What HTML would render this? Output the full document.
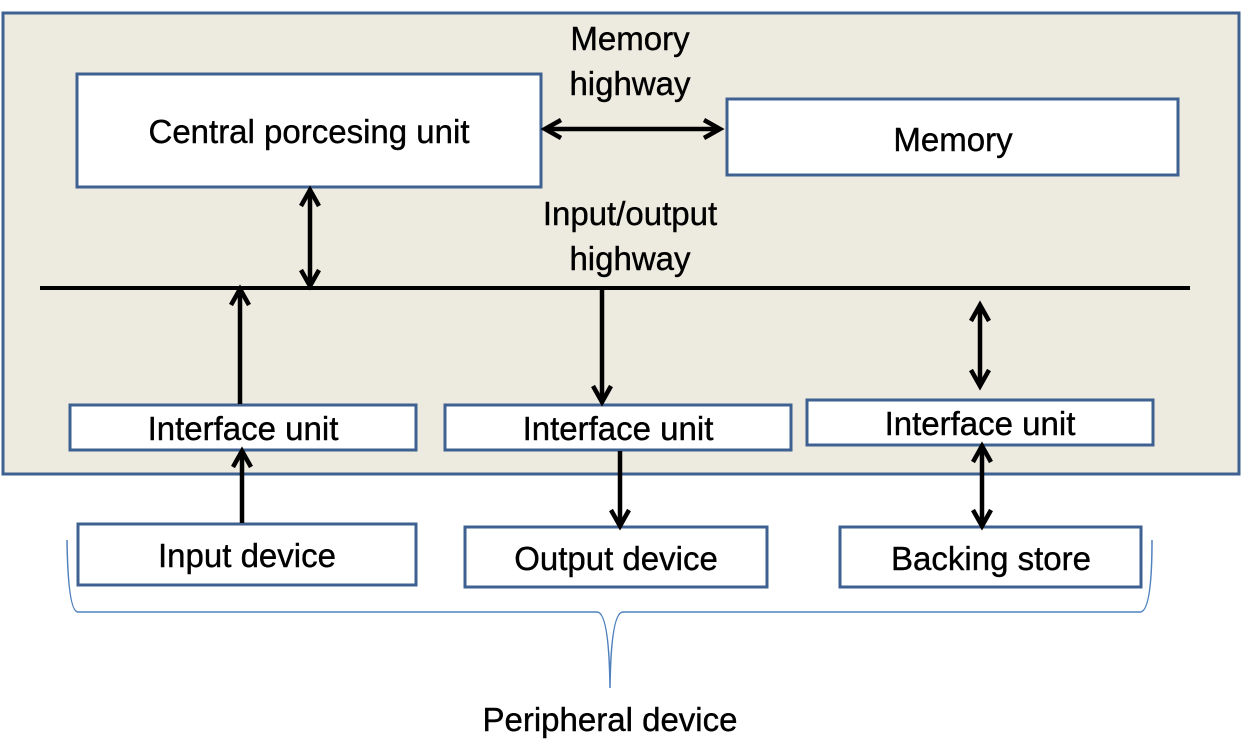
<!DOCTYPE html>
<html><head><style>
body{margin:0;background:#fff;}
svg{display:block;}
text{font-family:"Liberation Sans",sans-serif;font-size:33px;fill:#000;stroke:#000;stroke-width:0.4px;}
</style></head><body>
<svg width="1244" height="749" viewBox="0 0 1244 749">
<defs>
<marker id="b" markerWidth="24" markerHeight="24" refX="19" refY="12" orient="auto-start-reverse" markerUnits="userSpaceOnUse">
<path d="M3,3 L19,12 L3,21" fill="none" stroke="#000" stroke-width="4.5"/>
</marker>
</defs>
<rect x="3" y="13" width="1236" height="461" fill="#EDEAE0" stroke="#3E6192" stroke-width="3"/>
<g fill="#fff" stroke="#3E6192" stroke-width="3">
<rect x="77" y="74" width="464" height="113"/>
<rect x="727" y="99" width="451" height="76"/>
<rect x="70" y="405" width="346" height="45"/>
<rect x="445" y="405" width="346" height="45"/>
<rect x="807" y="400" width="346" height="45"/>
<rect x="78" y="524" width="338" height="61"/>
<rect x="465" y="527" width="302" height="60"/>
<rect x="840" y="527" width="301" height="60"/>
</g>
<line x1="40" y1="288" x2="1190" y2="288" stroke="#000" stroke-width="4"/>
<g stroke="#000" stroke-width="4.5" fill="none">
<line x1="545" y1="129" x2="720" y2="129" marker-start="url(#b)" marker-end="url(#b)"/>
<line x1="310" y1="190" x2="310" y2="286" marker-start="url(#b)" marker-end="url(#b)"/>
<line x1="240" y1="404" x2="240" y2="289" marker-end="url(#b)"/>
<line x1="602" y1="290" x2="602" y2="402" marker-end="url(#b)"/>
<line x1="980" y1="305" x2="980" y2="386" marker-start="url(#b)" marker-end="url(#b)"/>
<line x1="242" y1="523" x2="242" y2="451" marker-end="url(#b)"/>
<line x1="620" y1="451" x2="620" y2="526" marker-end="url(#b)"/>
<line x1="982" y1="446" x2="982" y2="526" marker-start="url(#b)" marker-end="url(#b)"/>
</g>
<path d="M67,540 Q68,612 78,612 L597,612 Q609,612 610,688 Q611,612 623,612 L1140,612 Q1152,612 1152,540" fill="none" stroke="#4F81BD" stroke-width="1.5"/>
<text x="309" y="143" text-anchor="middle">Central porcesing unit</text>
<text x="953" y="151" text-anchor="middle">Memory</text>
<text x="630" y="50" text-anchor="middle">Memory</text>
<text x="630" y="95" text-anchor="middle">highway</text>
<text x="630" y="225" text-anchor="middle">Input/output</text>
<text x="630" y="270" text-anchor="middle">highway</text>
<text x="243" y="440" text-anchor="middle">Interface unit</text>
<text x="618" y="440" text-anchor="middle">Interface unit</text>
<text x="980" y="435" text-anchor="middle">Interface unit</text>
<text x="247" y="567" text-anchor="middle">Input device</text>
<text x="616" y="570" text-anchor="middle">Output device</text>
<text x="991" y="570" text-anchor="middle">Backing store</text>
<text x="610" y="731" text-anchor="middle">Peripheral device</text>
</svg>
</body></html>
